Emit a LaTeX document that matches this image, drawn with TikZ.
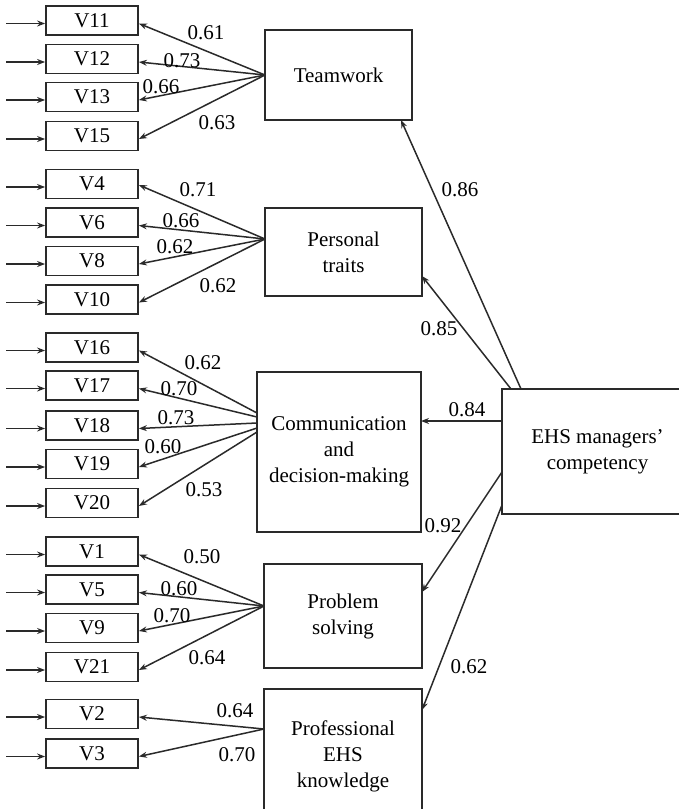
\documentclass[tikz,border=0pt]{standalone}
\usepackage{fontspec}
\setmainfont{Liberation Serif}
\usetikzlibrary{arrows.meta}
\definecolor{linec}{HTML}{2A2A2A}
\begin{document}
\begin{tikzpicture}[x=1pt,y=-1pt,
  every node/.style={font=\fontsize{21}{26}\selectfont,text=black},
  obs/.style={draw=linec,line width=1.8pt,minimum width=92pt,minimum height=29pt,inner sep=0pt},
  lat/.style={draw=linec,line width=1.8pt,inner sep=0pt,align=center},
  boxline/.style={draw=linec,line width=1.8pt},
  arr/.style={draw=linec,line width=1.5pt,-{Stealth[length=8pt,width=6pt]}},
  lbl/.style={inner sep=0pt}]
\useasboundingbox (0,0) rectangle (678,809);

% observed variables
\node[obs] (v11) at (92,20.5) {V11};
\node[obs] (v12) at (92,59) {V12};
\node[obs] (v13) at (92,97) {V13};
\node[obs] (v15) at (92,136) {V15};
\node[obs] (v4) at (92,184) {V4};
\node[obs] (v6) at (92,222.5) {V6};
\node[obs] (v8) at (92,261) {V8};
\node[obs] (v10) at (92,299.5) {V10};
\node[obs] (v16) at (92,347.5) {V16};
\node[obs] (v17) at (92,385.5) {V17};
\node[obs] (v18) at (92,425.5) {V18};
\node[obs] (v19) at (92,464) {V19};
\node[obs] (v20) at (92,503) {V20};
\node[obs] (v1) at (92,551.5) {V1};
\node[obs] (v5) at (92,589.5) {V5};
\node[obs] (v9) at (92,628) {V9};
\node[obs] (v21) at (92,667) {V21};
\node[obs] (v2) at (92,714) {V2};
\node[obs] (v3) at (92,753.5) {V3};

% input arrows
\foreach \v in {v11,v12,v13,v15,v4,v6,v8,v10,v16,v17,v18,v19,v20,v1,v5,v9,v21,v2,v3}{
  \draw[arr] ([xshift=-39pt,yshift=-3pt]\v.west) -- ([yshift=-3pt]\v.west);
}

% latent variables
\node[lat,minimum width=147pt,minimum height=90pt] (tw) at (338.5,75) {Teamwork};
\node[lat,minimum width=157pt,minimum height=88pt] (pt) at (343.5,252) {Personal\\traits};
\node[lat,minimum width=164pt,minimum height=160pt] (cd) at (339,452) {Communication\\and\\decision-making};
\node[lat,minimum width=158pt,minimum height=104pt] (ps) at (343,616) {Problem\\solving};
\node[lat,minimum width=158pt,minimum height=134pt] (pk) at (343,756) {Professional\\EHS\\knowledge};
\draw[boxline] (740,389) -- (502,389) -- (502,514) -- (740,514);
\node[align=center,inner sep=0pt] (ehs) at (597.5,451.5) {EHS managers'\\competency};

% source points on latent boxes
\coordinate (twp) at (265,75);
\coordinate (ptp) at (265,239);
\coordinate (cd1) at (257,413);
\coordinate (cd2) at (257,417);
\coordinate (cd3) at (257,423);
\coordinate (cd4) at (257,428);
\coordinate (cd5) at (257,432);
\coordinate (psp) at (264,606);
\coordinate (pkp) at (264,729);

\draw[arr] (twp) -- ([yshift=-3pt]v11.east);
\draw[arr] (twp) -- ([yshift=-3pt]v12.east);
\draw[arr] (twp) -- ([yshift=-3pt]v13.east);
\draw[arr] (twp) -- ([yshift=-3pt]v15.east);
\draw[arr] (ptp) -- ([yshift=-1pt]v4.east);
\draw[arr] (ptp) -- ([yshift=-3pt]v6.east);
\draw[arr] (ptp) -- ([yshift=-3pt]v8.east);
\draw[arr] (ptp) -- ([yshift=-3pt]v10.east);
\draw[arr] (cd1) -- ([yshift=-3pt]v16.east);
\draw[arr] (cd2) -- ([yshift=-3pt]v17.east);
\draw[arr] (cd3) -- ([yshift=-3pt]v18.east);
\draw[arr] (cd4) -- ([yshift=-3pt]v19.east);
\draw[arr] (cd5) -- ([yshift=-3pt]v20.east);
\draw[arr] (psp) -- ([yshift=-3pt]v1.east);
\draw[arr] (psp) -- ([yshift=-3pt]v5.east);
\draw[arr] (psp) -- ([yshift=-3pt]v9.east);
\draw[arr] (psp) -- ([yshift=-3pt]v21.east);
\draw[arr] (pkp) -- ([yshift=-3pt]v2.east);
\draw[arr] (pkp) -- ([yshift=-3pt]v3.east);

% arrows from EHS
\coordinate (e1) at (521,389);
\coordinate (e2) at (511,389);
\coordinate (e3) at (502,421);
\coordinate (e4) at (502,472);
\coordinate (e5) at (502,505);
\coordinate (t1) at (401,120);
\coordinate (t2) at (422,276);
\coordinate (t3) at (421,421);
\coordinate (t4) at (422,592);
\coordinate (t5) at (422,710);
\draw[arr] (e1) -- (t1);
\draw[arr] (e2) -- (t2);
\draw[arr] (e3) -- (t3);
\draw[arr] (e4) -- (t4);
\draw[arr] (e5) -- (t5);

% labels
\node[lbl] (l1) at (206,33) {0.61};
\node[lbl] (l2) at (182,61) {0.73};
\node[lbl] (l3) at (161,87) {0.66};
\node[lbl] (l4) at (217,123) {0.63};
\node[lbl] (l5) at (198,190) {0.71};
\node[lbl] (l6) at (181,221) {0.66};
\node[lbl] (l7) at (175,247) {0.62};
\node[lbl] (l8) at (218,286) {0.62};
\node[lbl] (l9) at (203,363) {0.62};
\node[lbl] (l10) at (179,389) {0.70};
\node[lbl] (l11) at (176,418) {0.73};
\node[lbl] (l12) at (163,447) {0.60};
\node[lbl] (l13) at (204,490) {0.53};
\node[lbl] (l14) at (202,557) {0.50};
\node[lbl] (l15) at (179,589) {0.60};
\node[lbl] (l16) at (172,616) {0.70};
\node[lbl] (l17) at (207,658) {0.64};
\node[lbl] (l18) at (235,711) {0.64};
\node[lbl] (l19) at (237,755) {0.70};
\node[lbl] (l20) at (460,190) {0.86};
\node[lbl] (l21) at (439,329) {0.85};
\node[lbl] (l22) at (467,410) {0.84};
\node[lbl] (l23) at (443,526) {0.92};
\node[lbl] (l24) at (469,667) {0.62};
\end{tikzpicture}
\end{document}
